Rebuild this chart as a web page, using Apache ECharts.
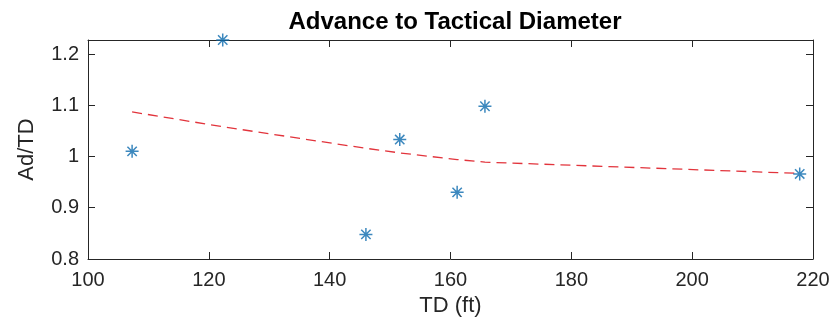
<!DOCTYPE html>
<html>
<head>
<meta charset="utf-8">
<title>Advance to Tactical Diameter</title>
<script src="https://cdn.jsdelivr.net/npm/echarts@6/dist/echarts.min.js"></script>
<style>
  html, body { margin: 0; padding: 0; background: #fff; }
  #chart { width: 835px; height: 329px; }
</style>
</head>
<body>
<div id="chart"></div>
<script>
// Measured runs: tactical diameter (ft) and advance / TD ratio
const tdFt    = [107.3, 122.3, 146.0, 151.6, 161.1, 165.7, 217.8];
const adRatio = [1.010, 1.2273, 0.848, 1.033, 0.930, 1.098, 0.966];

// Fitted trend evaluated at the sorted TD values
const fitTd    = [107.3, 122.3, 146.0, 151.6, 161.1, 165.7, 217.8];
const fitRatio = [1.087, 1.058, 1.016, 1.007, 0.994, 0.989, 0.967];

// Axis ranges and tick steps
const xRange = [100, 220];
const xStep = 20;
const yRange = [0.8, 1.2273];
const yStep = 0.1;

const FONT = '"Liberation Sans", Arial, Helvetica, sans-serif';
const INK = '#262626';

// MATLAB-style asterisk marker: plus sign overlaid with a cross
const asterisk = 'path://M0,-1L0,1M-1,0L1,0M-0.72,-0.72L0.72,0.72M-0.72,0.72L0.72,-0.72';

const baseAxisLine = { show: true, lineStyle: { color: INK, width: 1 } };
const tickIn = { show: true, inside: true, length: 7, lineStyle: { color: INK, width: 1 } };

const chart = echarts.init(document.getElementById('chart'), null, { renderer: 'canvas' });

chart.setOption({
  animation: false,
  backgroundColor: '#ffffff',
  title: {
    text: 'Advance to Tactical Diameter',
    left: 450, top: 5,
    textAlign: 'center',
    textStyle: { fontFamily: FONT, fontWeight: 'bold', fontSize: 24, color: '#000' }
  },
  grid: { left: 88, right: 22, top: 40, bottom: 70 },
  xAxis: [{
    type: 'value',
    min: xRange[0], max: xRange[1], interval: xStep,
    name: 'TD (ft)', nameLocation: 'middle', nameGap: 36,
    nameTextStyle: { fontFamily: FONT, fontSize: 22, color: INK },
    axisLine: baseAxisLine, axisTick: tickIn,
    axisLabel: { fontFamily: FONT, fontSize: 20, color: INK, margin: 11 },
    splitLine: { show: false }
  }, {
    type: 'value', position: 'top',
    min: xRange[0], max: xRange[1], interval: xStep,
    axisLine: baseAxisLine, axisTick: tickIn,
    axisLabel: { show: false }, splitLine: { show: false }
  }],
  yAxis: [{
    type: 'value',
    min: yRange[0], max: yRange[1], interval: yStep,
    name: 'Ad/TD', nameLocation: 'middle', nameGap: 50, nameRotate: 90,
    nameTextStyle: { fontFamily: FONT, fontSize: 22, color: INK },
    axisLine: baseAxisLine, axisTick: tickIn,
    axisLabel: { fontFamily: FONT, fontSize: 20, color: INK, margin: 9, showMaxLabel: false },
    splitLine: { show: false }
  }, {
    type: 'value', position: 'right',
    min: yRange[0], max: yRange[1], interval: yStep,
    axisLine: baseAxisLine, axisTick: tickIn,
    axisLabel: { show: false }, splitLine: { show: false }
  }],
  series: [{
    name: 'Fit',
    type: 'line',
    data: fitTd.map((x, i) => [x, fitRatio[i]]),
    showSymbol: false,
    symbol: 'none',
    lineStyle: { color: '#e2343c', width: 1.3, type: [10, 6] },
    z: 2
  }, {
    name: 'Runs',
    type: 'scatter',
    data: tdFt.map((x, i) => [x, adRatio[i]]),
    symbol: asterisk,
    symbolSize: 13,
    clip: false,
    itemStyle: { color: 'none', borderColor: '#0b6aae', borderWidth: 1.5 },
    z: 3
  }]
});
</script>
</body>
</html>
